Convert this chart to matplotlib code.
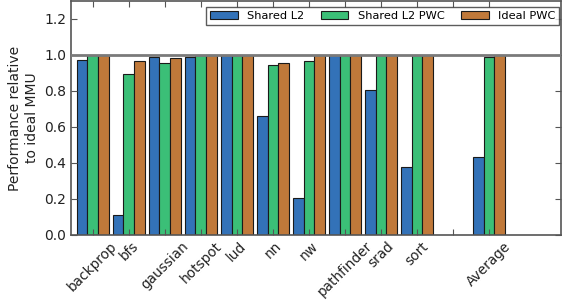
import matplotlib
matplotlib.use("Agg")
import matplotlib.pyplot as plt
import numpy as np

categories = ["backprop", "bfs", "gaussian", "hotspot", "lud", "nn", "nw",
              "pathfinder", "srad", "sort", "", "Average"]
shared_l2 = [0.97, 0.11, 0.987, 0.987, 1.0, 0.659, 0.205, 1.0, 0.808, 0.376, None, 0.432]
shared_l2_pwc = [1.0, 0.894, 0.957, 1.0, 1.0, 0.944, 0.968, 1.0, 1.0, 1.0, None, 0.987]
ideal_pwc = [1.0, 0.965, 0.981, 1.0, 1.0, 0.954, 1.0, 1.0, 1.0, 1.0, None, 1.0]
series_names = ["Shared L2", "Shared L2 PWC", "Ideal PWC"]
colors = ["#3372b8", "#3bbf77", "#c0793a"]

fig = plt.figure(figsize=(5.64, 3.04), dpi=100)
ax = fig.add_axes([0.126, 0.227, 0.869, 0.770])

x = np.arange(len(categories))
w = 0.295
for k, (vals, name, c) in enumerate(zip([shared_l2, shared_l2_pwc, ideal_pwc], series_names, colors)):
    xs = [xi + (k - 1) * w for xi, v in zip(x, vals) if v is not None]
    vs = [v for v in vals if v is not None]
    ax.bar(xs, vs, width=w, color=c, edgecolor="#1a1a1a", linewidth=0.8, label=name)

ax.axhline(1.0, color="#7a7a7a", linewidth=2, zorder=3)
ax.set_xlim(-0.6, 13.0)
ax.set_ylim(0, 1.3)
ax.set_yticks([0.0, 0.2, 0.4, 0.6, 0.8, 1.0, 1.2])
ax.set_yticklabels(["0.0", "0.2", "0.4", "0.6", "0.8", "1.0", "1.2"], fontsize=10, color="#222222")
ax.set_xticks(x)
ax.set_xticklabels(categories, rotation=45, ha="center", fontsize=9.8, color="#222222")
ax.tick_params(direction="in", top=True, right=True, length=4, color="#555555")
ax.tick_params(axis="x", pad=3)
ax.set_ylabel("Performance relative\nto ideal MMU", fontsize=10, color="#222222", labelpad=4)
for s in ax.spines.values():
    s.set_color("#555555")
    s.set_linewidth(1.2)

leg = ax.legend(loc="upper right", bbox_to_anchor=(0.996, 0.975), ncol=3, fontsize=8.2,
                frameon=True, fancybox=False, edgecolor="#333333", borderaxespad=0.0,
                handlelength=2.4, columnspacing=1.5, borderpad=0.35)
leg.get_frame().set_linewidth(1.0)

fig.savefig("out.png", dpi=100)
